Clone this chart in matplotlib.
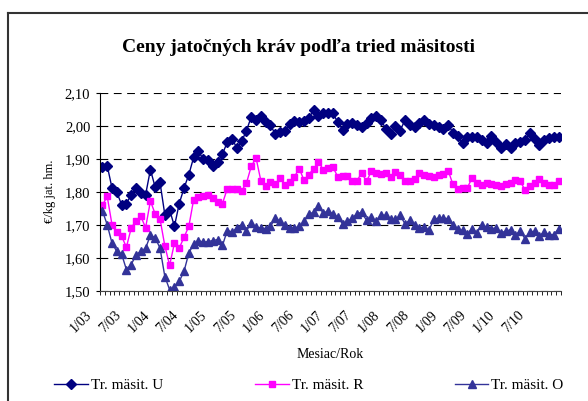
import numpy as np
import matplotlib
matplotlib.use("Agg")
import matplotlib.pyplot as plt
import matplotlib.transforms as mtransforms
from matplotlib.lines import Line2D
from matplotlib.ticker import FixedLocator, FuncFormatter

plt.rcParams['font.family'] = ['Liberation Serif', 'DejaVu Serif']

# monthly prices 1/03 .. 12/10 (EUR/kg)
trieda_u = [1.876, 1.879, 1.811, 1.798, 1.761, 1.764, 1.791, 1.811, 1.796, 1.791,
            1.867, 1.813, 1.828, 1.730, 1.745, 1.695, 1.764, 1.811, 1.852, 1.904,
            1.922, 1.899, 1.897, 1.878, 1.890, 1.914, 1.950, 1.961, 1.932, 1.953,
            1.985, 2.027, 2.018, 2.028, 2.010, 2.001, 1.975, 1.981, 1.985, 2.005,
            2.013, 2.011, 2.015, 2.023, 2.048, 2.030, 2.038, 2.038, 2.038, 2.011,
            1.988, 2.005, 2.008, 2.003, 1.995, 2.008, 2.023, 2.028, 2.018, 1.991,
            1.975, 1.998, 1.985, 2.017, 2.003, 1.995, 2.008, 2.018, 2.005, 2.001,
            1.995, 1.991, 2.003, 1.979, 1.968, 1.947, 1.965, 1.965, 1.966, 1.957,
            1.948, 1.968, 1.950, 1.932, 1.945, 1.933, 1.947, 1.952, 1.957, 1.978,
            1.959, 1.942, 1.958, 1.962, 1.965, 1.966]

trieda_r = [1.759, 1.786, 1.700, 1.678, 1.665, 1.632, 1.690, 1.712, 1.725, 1.691,
            1.772, 1.732, 1.717, 1.636, 1.577, 1.644, 1.629, 1.662, 1.695, 1.776,
            1.784, 1.786, 1.789, 1.781, 1.768, 1.764, 1.809, 1.809, 1.809, 1.803,
            1.826, 1.877, 1.902, 1.833, 1.816, 1.828, 1.823, 1.841, 1.820, 1.828,
            1.846, 1.870, 1.834, 1.852, 1.870, 1.890, 1.867, 1.872, 1.874, 1.846,
            1.848, 1.849, 1.833, 1.833, 1.857, 1.831, 1.862, 1.857, 1.854, 1.858,
            1.846, 1.860, 1.850, 1.833, 1.831, 1.838, 1.857, 1.852, 1.848, 1.846,
            1.851, 1.855, 1.864, 1.822, 1.808, 1.812, 1.812, 1.842, 1.826, 1.821,
            1.826, 1.823, 1.819, 1.816, 1.823, 1.826, 1.836, 1.831, 1.806, 1.816,
            1.826, 1.839, 1.826, 1.819, 1.821, 1.831]

trieda_o = [1.742, 1.700, 1.644, 1.619, 1.611, 1.564, 1.579, 1.609, 1.619, 1.629,
            1.668, 1.660, 1.629, 1.543, 1.503, 1.512, 1.528, 1.559, 1.614, 1.641,
            1.652, 1.647, 1.649, 1.652, 1.655, 1.637, 1.682, 1.678, 1.690, 1.700,
            1.682, 1.705, 1.692, 1.690, 1.688, 1.695, 1.720, 1.710, 1.700, 1.690,
            1.690, 1.695, 1.710, 1.732, 1.738, 1.756, 1.735, 1.742, 1.733, 1.723,
            1.703, 1.710, 1.720, 1.733, 1.738, 1.713, 1.723, 1.710, 1.730, 1.728,
            1.716, 1.716, 1.728, 1.703, 1.713, 1.700, 1.690, 1.693, 1.683, 1.716,
            1.720, 1.720, 1.718, 1.700, 1.686, 1.683, 1.673, 1.688, 1.676, 1.700,
            1.693, 1.688, 1.690, 1.676, 1.680, 1.685, 1.670, 1.680, 1.658, 1.678,
            1.680, 1.666, 1.678, 1.670, 1.670, 1.688]

tick_labels = ["1/03", "7/03", "1/04", "7/04", "1/05", "7/05", "1/06", "7/06",
               "1/07", "7/07", "1/08", "7/08", "1/09", "7/09", "1/10", "7/10"]

x = np.arange(len(trieda_u))

fig = plt.figure(figsize=(5.88, 4.01), dpi=100)
ax = fig.add_axes([100 / 588, 1 - 290.7 / 401, 461 / 588, 198 / 401])

ax.plot(x, trieda_u, color='#000080', lw=1, marker='D', ms=4.8, label='Tr. mäsit. U')
ax.plot(x, trieda_r, color='#FF00FF', lw=1, marker='s', ms=4.8, label='Tr. mäsit. R')
ax.plot(x, trieda_o, color='#333399', lw=1, marker='^', ms=5.8, label='Tr. mäsit. O')

ax.set_xlim(-0.5, len(x) - 0.5)
ax.set_ylim(1.5, 2.1)
ax.set_yticks(np.arange(1.5, 2.11, 0.1))
ax.yaxis.set_major_formatter(FuncFormatter(lambda v, p: f"{v:.2f}".replace('.', ',')))
ax.yaxis.grid(True, linestyle=(0, (7, 5)), color='black', lw=0.8)
ax.set_axisbelow(True)

ax.set_xticks(np.arange(0, len(x), 6))
ax.set_xticklabels(tick_labels, rotation=45, ha='right', va='top')
ax.xaxis.set_minor_locator(FixedLocator(np.arange(-0.5, len(x), 1)))
ax.tick_params(axis='x', which='major', length=0, pad=13, labelsize=10)
ax.tick_params(axis='x', which='minor', length=3, width=0.6, direction='out')
ax.tick_params(axis='y', length=3, width=0.8, labelsize=10.5, pad=4)

for sp in ['top', 'right']:
    ax.spines[sp].set_visible(False)
ax.spines['left'].set_color('black')
ax.spines['bottom'].set_color('#444444')

ax.set_ylabel('€/kg jat. hm.', fontsize=9, labelpad=6)
ax.set_xlabel('Mesiac/Rok', fontsize=10, labelpad=9)

fig.text(298 / 588, 1 - 47 / 401, 'Ceny jatočných kráv podľa tried mäsitosti',
         ha='center', va='center', fontsize=14, fontweight='bold')

fig.legend(loc='center', bbox_to_anchor=(309 / 588, 1 - 385 / 401), ncol=3,
           frameon=False, fontsize=11, handlelength=2.2, columnspacing=6.0,
           handletextpad=0.2)

# outer chart frame
fx, fy = 8 / 588, 1 - 13 / 401
fig.add_artist(Line2D([fx, fx], [0, fy], transform=fig.transFigure, color='#333333', lw=1.5))
fig.add_artist(Line2D([fx, 1], [fy, fy], transform=fig.transFigure, color='#333333', lw=1.5))

shift = mtransforms.ScaledTranslation(-8 / 100, 0, fig.dpi_scale_trans)
for lab in ax.get_xticklabels():
    lab.set_transform(lab.get_transform() + shift)

fig.savefig('out.png', dpi=100)
